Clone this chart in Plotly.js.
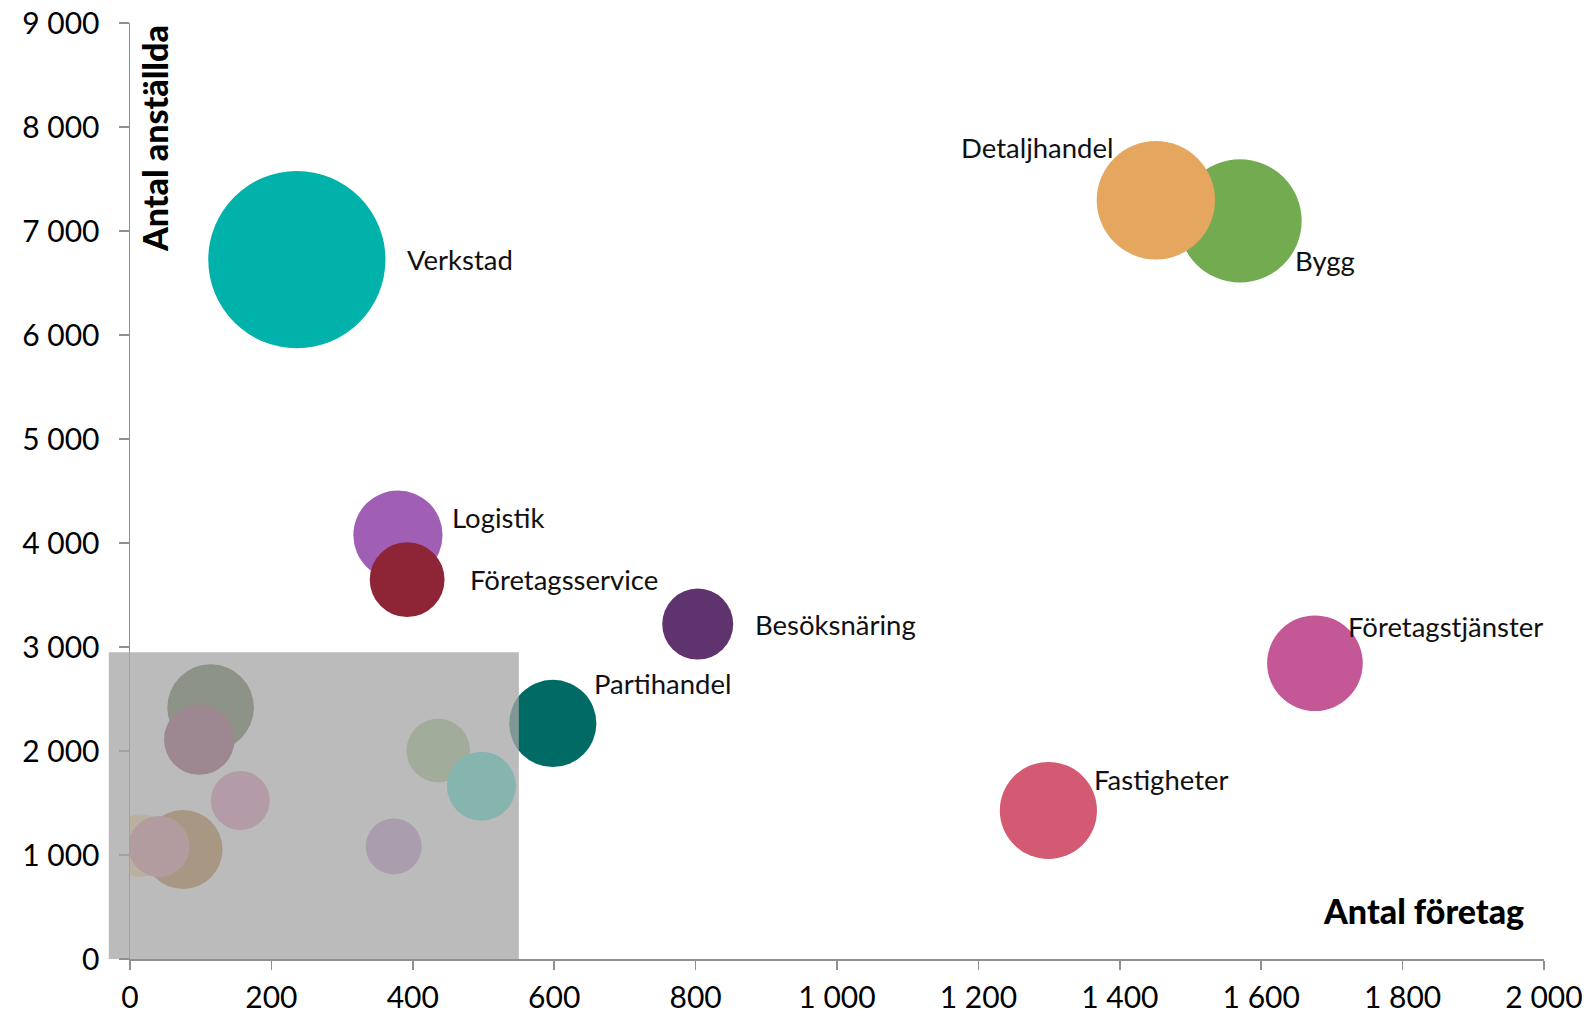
<!DOCTYPE html>
<html><head><meta charset="utf-8">
<script src="https://cdn.plot.ly/plotly-3.0.1.min.js"></script>
<style>html,body{margin:0;padding:0;background:#fff;} #chart{width:1589px;height:1016px;}</style>
</head><body><div id="chart"></div>
<script>
// Data
const branscher = ['Bygg','Detaljhandel','Verkstad','Logistik','Företagsservice','Besöksnäring','Företagstjänster','Fastigheter','','','','','','','','','','Partihandel'];
const antalForetag = [1570,1451,236,379,392,803,1676,1299,114,98,156,15,75,41,373,436,497,598];
const antalAnstallda = [7097,7296,6725,4076,3648,3220,2844,1428,2418,2110,1524,1090,1053,1082,1082,2004,1662,2265];
const bubbelStorlek = [3800,3500,7850,1990,1400,1260,2285,2360,1875,1246,870,980,1560,930,784,1011,1190,1900];
const farger = ['#73ab50','#e5a75f','#00b2a9','#a05fb5','#8d2537','#5e336e','#c45796','#d45a73',
                '#405526','#802651','#dd7baa','#f7d08c','#aa6611','#dd7b8c','#b780c4','#91c473','#20e0cc','#006b64'];
const xRange = [0, 2000];
const yRange = [0, 9000];
const xTicks = [0,200,400,600,800,1000,1200,1400,1600,1800,2000];
const yTicks = [0,1000,2000,3000,4000,5000,6000,7000,8000,9000];
// highlighted region (data units)
const rutaX = [-30, 550];
const rutaY = [0, 2950];

// label placement (style)
const labelStyle = {
  'Verkstad':        {xanchor:'left',  dx:108, dy:0},
  'Detaljhandel':    {xanchor:'right', dx:-40, dy:53},
  'Bygg':            {xanchor:'left',  dx:53,  dy:-40},
  'Logistik':        {xanchor:'left',  dx:52,  dy:18},
  'Företagsservice': {xanchor:'left',  dx:61,  dy:0},
  'Besöksnäring':    {xanchor:'left',  dx:55,  dy:0},
  'Partihandel':     {xanchor:'left',  dx:39,  dy:40},
  'Företagstjänster':{xanchor:'left',  dx:31,  dy:37},
  'Fastigheter':     {xanchor:'left',  dx:44,  dy:31}
};

const FONT = 'Lato, "Open Sans", sans-serif';
const fmt = v => String(v).replace(/\B(?=(\d{3})+(?!\d))/g, ' ');

const trace = {
  type:'scatter', mode:'markers',
  x: antalForetag, y: antalAnstallda, text: branscher,
  marker:{size: bubbelStorlek, sizemode:'area', sizeref:0.5, color: farger, opacity:1, line:{width:0}},
  cliponaxis:true, hoverinfo:'text+x+y', showlegend:false
};

const annotations = [];
branscher.forEach((b,i) => {
  if (!b) return;
  const s = labelStyle[b];
  annotations.push({x: antalForetag[i], y: antalAnstallda[i], xref:'x', yref:'y', text:b, showarrow:false,
    xanchor:s.xanchor, yanchor:'middle', xshift:s.dx, yshift:s.dy, font:{family:FONT, size:27.5, color:'#111'}});
});
annotations.push({xref:'paper', yref:'paper', x:0.017, y:0.876, text:'Antal anställda', textangle:-90,
  showarrow:false, xanchor:'center', yanchor:'middle', font:{family:FONT, size:34, color:'#000', weight:900}});
annotations.push({xref:'paper', yref:'paper', x:0.9876, y:0.0513, text:'Antal företag',
  showarrow:false, xanchor:'right', yanchor:'middle', font:{family:FONT, size:34, color:'#000', weight:900}});

const px = v => (v - xRange[0]) / (xRange[1] - xRange[0]);
const py = v => (v - yRange[0]) / (yRange[1] - yRange[0]);

const layout = {
  width:1589, height:1016,
  margin:{l:130, r:45, t:23, b:57},
  paper_bgcolor:'#fff', plot_bgcolor:'#fff',
  font:{family:FONT, color:'#000'},
  xaxis:{range:xRange, tickvals:xTicks, ticktext:xTicks.map(fmt), showgrid:false, zeroline:false,
    showline:true, linecolor:'#8f8f8f', linewidth:2, ticks:'outside', ticklen:9, tickcolor:'#8f8f8f', tickwidth:1.5,
    ticklabelstandoff:2,
    tickfont:{family:FONT, size:30, color:'#000', weight:400}, fixedrange:true},
  yaxis:{range:yRange, tickvals:yTicks, ticktext:yTicks.map(fmt), showgrid:false, zeroline:false,
    showline:true, linecolor:'#8f8f8f', linewidth:1.5, ticks:'outside', ticklen:10, tickcolor:'#8f8f8f', tickwidth:1.5,
    ticklabelstandoff:13,
    tickfont:{family:FONT, size:30, color:'#000', weight:400}, fixedrange:true},
  shapes:[
    {type:'rect', xref:'paper', yref:'paper', x0:px(rutaX[0]), x1:px(rutaX[1]), y0:py(rutaY[0]), y1:py(rutaY[1]),
     fillcolor:'rgba(166,166,166,0.765)', line:{width:0}, layer:'above'},
    {type:'line', xref:'paper', yref:'paper', x0:px(-14), x1:0, y0:0, y1:0, line:{color:'#8f8f8f', width:2}, layer:'above'}
  ],
  annotations: annotations
};

Plotly.newPlot('chart', [trace], layout, {displayModeBar:false, staticPlot:true});
</script></body></html>
